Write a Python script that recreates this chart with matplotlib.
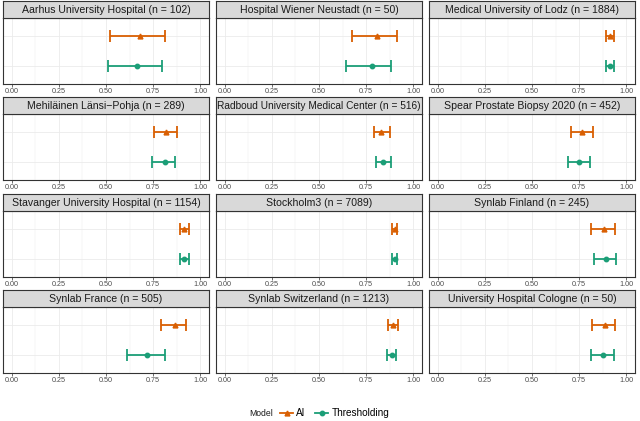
import matplotlib
matplotlib.use("Agg")
import matplotlib.pyplot as plt
from matplotlib.lines import Line2D

plt.rcParams["font.family"] = ["Liberation Sans", "DejaVu Sans"]

SITES = [
    "Aarhus University Hospital (n = 102)",
    "Hospital Wiener Neustadt (n = 50)",
    "Medical University of Lodz (n = 1884)",
    "Mehiläinen Länsi\u2212Pohja (n = 289)",
    "Radboud University Medical Center (n = 516)",
    "Spear Prostate Biopsy 2020 (n = 452)",
    "Stavanger University Hospital (n = 1154)",
    "Stockholm3 (n = 7089)",
    "Synlab Finland (n = 245)",
    "Synlab France (n = 505)",
    "Synlab Switzerland (n = 1213)",
    "University Hospital Cologne (n = 50)",
]

AI_EST = [0.680, 0.809, 0.914, 0.816, 0.830, 0.767, 0.912, 0.900, 0.881, 0.863, 0.891, 0.884]
AI_LO = [0.519, 0.672, 0.890, 0.756, 0.790, 0.709, 0.889, 0.888, 0.813, 0.793, 0.867, 0.818]
AI_HI = [0.811, 0.914, 0.933, 0.874, 0.874, 0.825, 0.937, 0.914, 0.940, 0.921, 0.918, 0.940]

TH_EST = [0.664, 0.778, 0.912, 0.812, 0.841, 0.751, 0.914, 0.900, 0.891, 0.718, 0.884, 0.877]
TH_LO = [0.512, 0.641, 0.890, 0.746, 0.799, 0.690, 0.891, 0.888, 0.827, 0.611, 0.860, 0.811]
TH_HI = [0.794, 0.883, 0.932, 0.863, 0.879, 0.806, 0.937, 0.914, 0.947, 0.814, 0.909, 0.935]

XTICKS = [0.0, 0.25, 0.5, 0.75, 1.0]
XTICKLABELS = ["0.00", "0.25", "0.50", "0.75", "1.00"]

AI_COL = "#D95F02"
TH_COL = "#1B9E77"

W, H = 640, 421
fig = plt.figure(figsize=(W / 100, H / 100), dpi=100)

col_left = [3, 216, 429]
pw = 206
strip_top = [1, 97, 194, 290]
sh, ph = 17, 66

for i, site in enumerate(SITES):
    r, c = divmod(i, 3)
    x0 = col_left[c]
    y_strip = strip_top[r]
    # panel
    ax = fig.add_axes([x0 / W, 1 - (y_strip + sh + ph) / H, pw / W, ph / H])
    ax.set_xlim(-0.045, 1.045)
    ax.set_ylim(0.4, 2.6)
    ax.set_xticks(XTICKS)
    ax.set_xticklabels(XTICKLABELS)
    ax.set_xticks([0.125, 0.375, 0.625, 0.875], minor=True)
    ax.set_yticks([1, 2])
    ax.set_yticklabels([])
    ax.tick_params(axis="y", length=0)
    ax.tick_params(axis="x", which="major", length=2.2, width=0.5, color="#333333",
                   labelsize=5.2, labelcolor="#4D4D4D", pad=1.0)
    ax.tick_params(axis="x", which="minor", length=0)
    ax.grid(True, which="major", color="#EBEBEB", lw=0.6)
    ax.grid(True, which="minor", axis="x", color="#EBEBEB", lw=0.3)
    ax.set_axisbelow(True)
    for sp in ax.spines.values():
        sp.set_color("#333333")
        sp.set_linewidth(0.8)

    ax.errorbar([AI_EST[i]], [2], xerr=[[AI_EST[i] - AI_LO[i]], [AI_HI[i] - AI_EST[i]]],
                fmt="^", color=AI_COL, ms=3.5, elinewidth=1.3, capsize=4.5, capthick=1.3)
    ax.errorbar([TH_EST[i]], [1], xerr=[[TH_EST[i] - TH_LO[i]], [TH_HI[i] - TH_EST[i]]],
                fmt="o", color=TH_COL, ms=3.2, elinewidth=1.3, capsize=4.5, capthick=1.3)

    # strip
    sax = fig.add_axes([x0 / W, 1 - (y_strip + sh) / H, pw / W, sh / H])
    sax.set_xlim(0, 1)
    sax.set_ylim(0, 1)
    sax.set_xticks([])
    sax.set_yticks([])
    sax.set_facecolor("#D9D9D9")
    for sp in sax.spines.values():
        sp.set_color("#333333")
        sp.set_linewidth(0.8)
    # the longest title is squeezed a little so it fits the strip
    fs = 7.6 if len(site) < 42 else 7.25
    sax.text(0.5, 0.47, site, ha="center", va="center", fontsize=fs, color="#1A1A1A",
             clip_on=True)

# legend
handles = [
    Line2D([], [], color=AI_COL, marker="^", ms=3.5, lw=1.3),
    Line2D([], [], color=TH_COL, marker="o", ms=3.2, lw=1.3),
]
fig.text(249 / W, 1 - 413 / H, "Model", fontsize=6.2, ha="left", va="center", color="#1A1A1A")
fig.legend(handles, ["AI", "Thresholding"], ncol=2, loc="center left",
           bbox_to_anchor=(280 / W, 1 - 413 / H), frameon=False, fontsize=7.2,
           handlelength=1.3, handletextpad=0.3, columnspacing=1.0, borderpad=0,
           borderaxespad=0)

fig.savefig("out.png", dpi=100, facecolor="white")
